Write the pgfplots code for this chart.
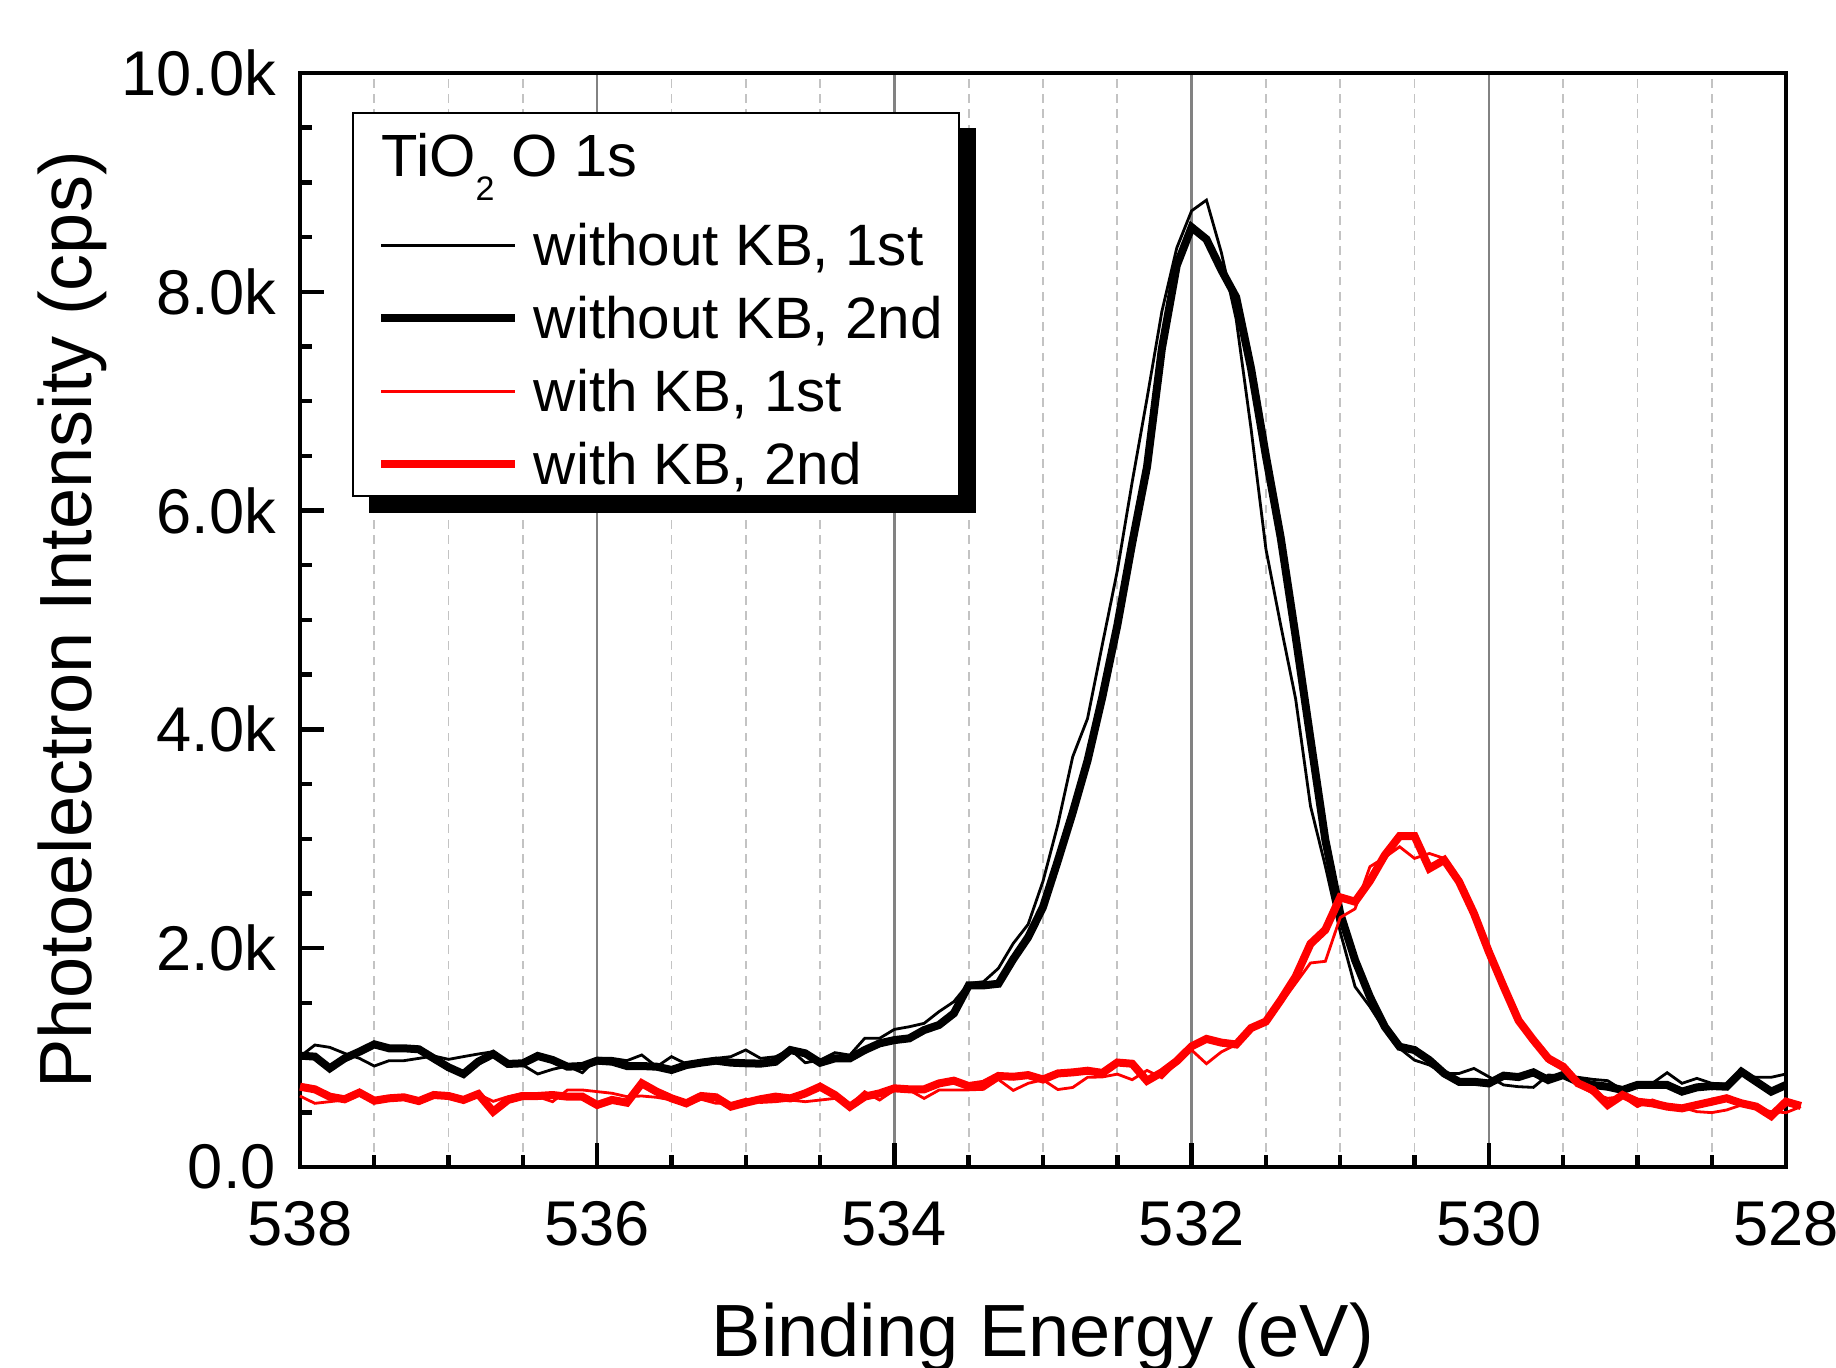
\documentclass[border=0pt]{standalone}
\usepackage{fontspec}
\setmainfont{Liberation Sans}
\usepackage{pgfplots}
\pgfplotsset{compat=1.18}
\usepackage{pgfplotstable}

\definecolor{gridmajor}{RGB}{130,130,130}
\definecolor{gridminor}{RGB}{195,195,195}

% binding energy, without KB 1st/2nd, with KB 1st/2nd
\pgfplotstableread{
E b1 b2 r1 r2
538.0 1009 1018 649 734
537.9 1115 1009 582 710
537.8 1094 902 597 643
537.7 1039 993 613 619
537.6 993 1054 674 680
537.5 923 1121 597 606
537.4 972 1085 643 628
537.3 972 1085 649 637
537.2 993 1076 613 603
537.1 1015 993 674 658
537.0 984 911 649 649
536.9 1009 850 613 613
536.8 1033 963 667 667
536.7 1054 1033 600 506
536.6 942 942 643 613
536.5 932 948 674 649
536.4 850 1015 643 649
536.3 893 978 597 658
536.2 923 917 704 643
536.1 862 923 704 643
536.0 993 972 689 567
535.9 993 963 674 613
535.8 972 923 643 588
535.7 1024 923 649 765
535.6 917 917 637 689
535.5 1009 887 613 628
535.4 942 932 567 582
535.3 972 954 619 649
535.2 993 972 582 637
535.1 1009 954 582 552
535.0 1070 948 619 588
534.9 993 945 590 620
534.8 1008 962 597 643
534.7 1075 1069 612 627
534.6 953 1039 597 673
534.5 978 953 612 734
534.4 1045 993 627 658
534.3 1023 993 566 551
534.2 1176 1069 688 643
534.1 1176 1130 612 673
534.0 1258 1160 703 719
533.9 1282 1176 703 710
533.8 1313 1252 627 710
533.7 1420 1298 703 764
533.6 1511 1404 703 789
533.5 1678 1660 705 740
533.4 1694 1660 710 760
533.3 1816 1675 800 832
533.2 2044 1900 700 825
533.1 2218 2100 765 840
533.0 2612 2376 797 800
532.9 3130 2800 708 855
532.8 3750 3240 727 865
532.7 4100 3716 820 880
532.6 4780 4300 823 860
532.5 5449 4950 849 955
532.4 6260 5700 798 944
532.3 7025 6400 883 788
532.2 7820 7480 815 866
532.1 8400 8240 951 968
532.0 8740 8590 1069 1103
531.9 8838 8480 944 1171
531.8 8360 8200 1052 1137
531.7 7750 7950 1120 1120
531.6 6750 7300 1255 1270
531.5 5650 6500 1306 1330
531.4 4950 5750 1493 1526
531.3 4280 4850 1679 1740
531.2 3300 3913 1865 2040
531.1 2750 2990 1880 2168
531.0 2150 2318 2280 2465
530.9 1648 1891 2360 2425
530.8 1465 1556 2745 2615
530.7 1252 1282 2830 2850
530.6 1084 1099 2927 3025
530.5 977 1069 2821 3025
530.4 932 977 2866 2729
530.3 855 855 2821 2806
530.2 855 779 2608 2608
530.1 901 779 2318 2318
530.0 825 764 1968 1968
529.9 750 835 1648 1648
529.8 734 822 1340 1340
529.7 728 865 1161 1160
529.6 841 795 963 993
529.5 832 841 887 917
529.4 820 780 750 765
529.3 801 750 673 704
529.2 789 734 628 567
529.1 704 704 643 658
529.0 759 750 552 597
528.9 765 750 613 582
528.8 862 750 567 552
528.7 765 689 545 536
528.6 810 728 506 567
528.5 765 740 497 597
528.4 759 734 521 628
528.3 841 871 567 582
528.2 820 780 536 552
528.1 820 689 506 466
528.0 850 750 497 597
527.9 nan nan 552 558
}\spectra

\begin{document}
\begin{tikzpicture}
\begin{axis}[
    width=371.5pt, height=273.5pt, scale only axis,
    x dir=reverse,
    xmin=528, xmax=538, ymin=0, ymax=10000,
    scaled y ticks=false,
    xtick={528,530,532,534,536,538},
    xticklabels={528,530,532,534,536,538},
    ytick={0,2000,4000,6000,8000,10000},
    yticklabels={0.0,2.0k,4.0k,6.0k,8.0k,10.0k},
    minor x tick num=3, minor y tick num=3,
    tick pos=left, tick align=inside,
    major tick length=6pt, minor tick length=3pt,
    tick style={black, line width=1.1pt},
    axis line style={line width=1.2pt},
    xmajorgrids, xminorgrids,
    major grid style={gridmajor, line width=0.65pt},
    minor grid style={gridminor, line width=0.45pt, dash pattern=on 2.2pt off 1.6pt},
    tick label style={font=\fontsize{15.8}{19}\selectfont},
    xticklabel style={yshift=-5pt},
    yticklabel style={xshift=-2.5pt},
    xlabel={Binding Energy (eV)},
    ylabel={Photoelectron Intensity (cps)},
    label style={font=\fontsize{18.5}{22}\selectfont},
    xlabel style={at={(axis description cs:0.5,0)}, anchor=base, yshift=-47.4pt},
    ylabel style={at={(axis description cs:-0.1402,0.5)}, anchor=base},
    clip=false,
    legend style={
        name=leg,
        at={(axis description cs:0.0352,0.9643)}, anchor=north west,
        draw=black, line width=0.4pt, fill=white,
        inner xsep=4pt, inner ysep=0pt,
        row sep=4.85pt, column sep=3.8pt,
        font=\fontsize{14.6}{17}\selectfont,
        cells={anchor=west},
        nodes={inner sep=0pt, text height=10.4pt, text depth=3pt},
    },
    legend image code/.code={
        \path (-2pt,0pt);
        \draw[#1] (0pt,1.3pt) -- (33.4pt,1.3pt);
    },
]
\addlegendimage{legend image code/.code={
    \path (0pt,-11.225pt) (0pt,11.225pt);
    \node[overlay, anchor=base west, inner sep=0pt, text height=, text depth=,
          font=\fontsize{14.9}{17}\selectfont]
        at (0pt,-4.575pt) {TiO\raisebox{-5.9pt}{\fontsize{8.5}{9}\selectfont 2} O 1s};}}
\addlegendentry{}

\addplot[black, line width=0.7pt] table[x=E, y=b1] {\spectra};
\addlegendentry{without KB, 1st}
\addplot[black, line width=2pt] table[x=E, y=b2] {\spectra};
\addlegendentry{without KB, 2nd}
\addplot[red, line width=0.7pt] table[x=E, y=r1] {\spectra};
\addlegendentry{with KB, 1st}
\addplot[red, line width=2pt] table[x=E, y=r2] {\spectra};
\addlegendentry{with KB, 2nd}
\end{axis}
% shadow of the legend box
\fill[black] ([yshift=-4.1pt]leg.north east) rectangle ([shift={(4.1pt,-4.1pt)}]leg.south east);
\fill[black] ([xshift=4.1pt]leg.south west) rectangle ([shift={(4.1pt,-4.1pt)}]leg.south east);
\pgfresetboundingbox
\path[use as bounding box] ([xshift=-75pt,yshift=-50pt]current axis.south west)
    rectangle ([xshift=12.5pt,yshift=18.25pt]current axis.north east);
\end{tikzpicture}
\end{document}
